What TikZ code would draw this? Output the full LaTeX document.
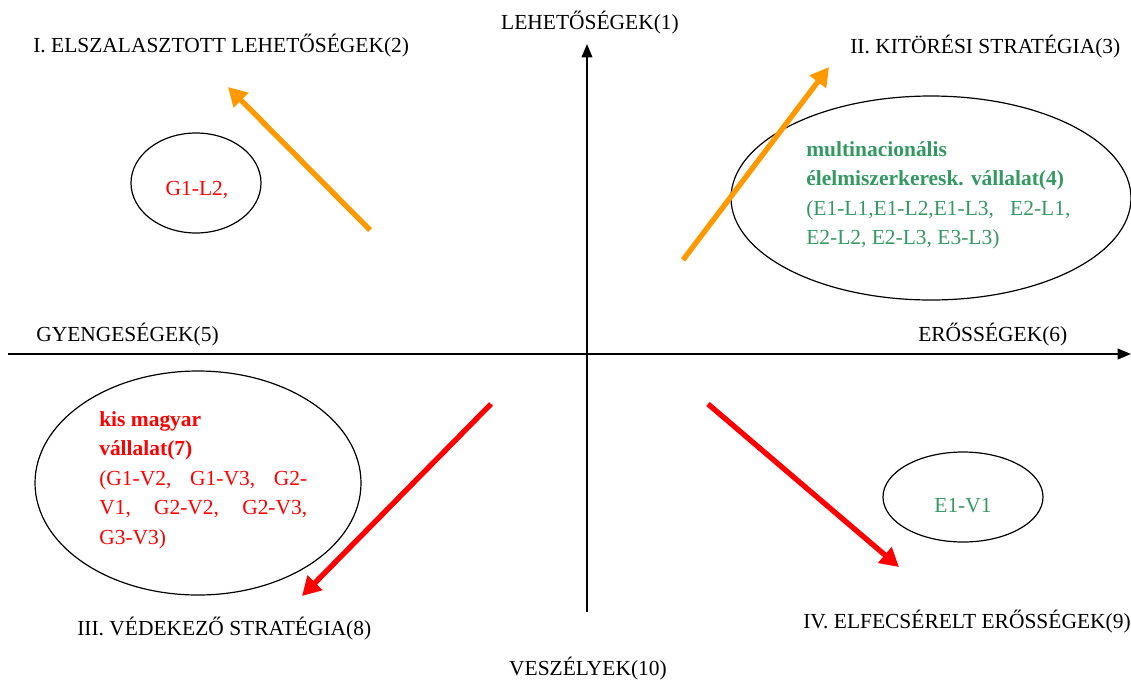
\documentclass[tikz,border=0pt]{standalone}
\usepackage{fontspec}
\setmainfont{Liberation Serif}
\usetikzlibrary{arrows.meta,shapes.geometric}
\definecolor{swotgreen}{RGB}{52,153,97}
\definecolor{swotorange}{RGB}{255,153,0}
\definecolor{swotred}{RGB}{255,0,0}
\begin{document}
\begin{tikzpicture}[x=0.75pt,y=-0.75pt,
    font=\fontsize{16.1}{22.1}\selectfont,
    lbl/.style={inner sep=0pt,anchor=base west},
    oval/.style={draw,ellipse,line width=0.9pt,inner sep=0pt},
    fatarrow/.style={line width=4pt,-{Triangle[length=14pt,width=15pt]}}]
    \useasboundingbox (0,0) rectangle (1131,679);
    % Axes
    \coordinate (bottom) at (587,612);
    \coordinate (top) at (587,44);
    \coordinate (left) at (8,354);
    \coordinate (right) at (1131,354);
    \draw [line width=1.3pt,-{Triangle[length=10pt,width=8pt]}] (bottom) -- (top);
    \draw [line width=1.3pt,-{Triangle[length=10pt,width=8pt]}] (left) -- (right);
    % Axis and quadrant labels
    \node [inner sep=0pt,anchor=base] (lehet) at (590,29) {LEHETŐSÉGEK(1)};
    \node [inner sep=0pt,anchor=base] (veszely) at (588,675) {VESZÉLYEK(10)};
    \node [lbl] (gyenge) at (36,341) {GYENGESÉGEK(5)};
    \node [lbl] (eros) at (918,341) {ERŐSSÉGEK(6)};
    \node [lbl] (q1) at (33,52) {I. ELSZALASZTOTT LEHETŐSÉGEK(2)};
    \node [lbl] (q2) at (850,53) {II. KITÖRÉSI STRATÉGIA(3)};
    \node [lbl] (q3) at (77,635) {III. VÉDEKEZŐ STRATÉGIA(8)};
    \node [lbl] (q4) at (803,628) {IV. ELFECSÉRELT ERŐSSÉGEK(9)};
    % Ellipses
    \node [oval,minimum width=97.5pt,minimum height=75pt] (ovalA) at (196,183) {};
    \node [oval,minimum width=300pt,minimum height=153pt] (ovalB) at (931,198) {};
    \node [oval,minimum width=244.5pt,minimum height=168pt] (ovalC) at (198,483) {};
    \node [oval,minimum width=120pt,minimum height=67.5pt] (ovalD) at (963,497) {};
    % Texts in the ellipses
    \node [inner sep=0pt,anchor=base,swotred] (txtA) at (197,195) {G1-L2,};
    \node [inner sep=0pt,anchor=base,swotgreen] (txtD) at (963,512) {E1-V1};
    \node [inner sep=0pt,anchor=north west,align=left,swotgreen] (txtB) at (806,141)
      {\textbf{multinacionális}\\ \textbf{élelmiszerkeresk. vállalat(4)}\\
       (E1-L1,E1-L2,E1-L3,\ \ \ E2-L1,\\ E2-L2, E2-L3, E3-L3)};
    \node [inner sep=0pt,anchor=north west,align=left,swotred] (txtC) at (99,411)
      {\textbf{kis magyar}\\ \textbf{vállalat(7)}\\
       \makebox[156pt][s]{(G1-V2,\hfill G1-V3,\hfill G2-}\\
       \makebox[156pt][s]{V1,\hfill G2-V2,\hfill G2-V3,}\\ G3-V3)};
    % Strategy arrows
    \coordinate (nwA) at (370,230);
    \coordinate (nwB) at (228,87);
    \coordinate (neA) at (683,260);
    \coordinate (neB) at (829,67);
    \coordinate (swA) at (491,404);
    \coordinate (swB) at (302,596);
    \coordinate (seA) at (708,404);
    \coordinate (seB) at (899,567);
    \draw [fatarrow,swotorange] (nwA) -- (nwB);
    \draw [fatarrow,swotorange] (neA) -- (neB);
    \draw [fatarrow,swotred] (swA) -- (swB);
    \draw [fatarrow,swotred] (seA) -- (seB);
\end{tikzpicture}
\end{document}
